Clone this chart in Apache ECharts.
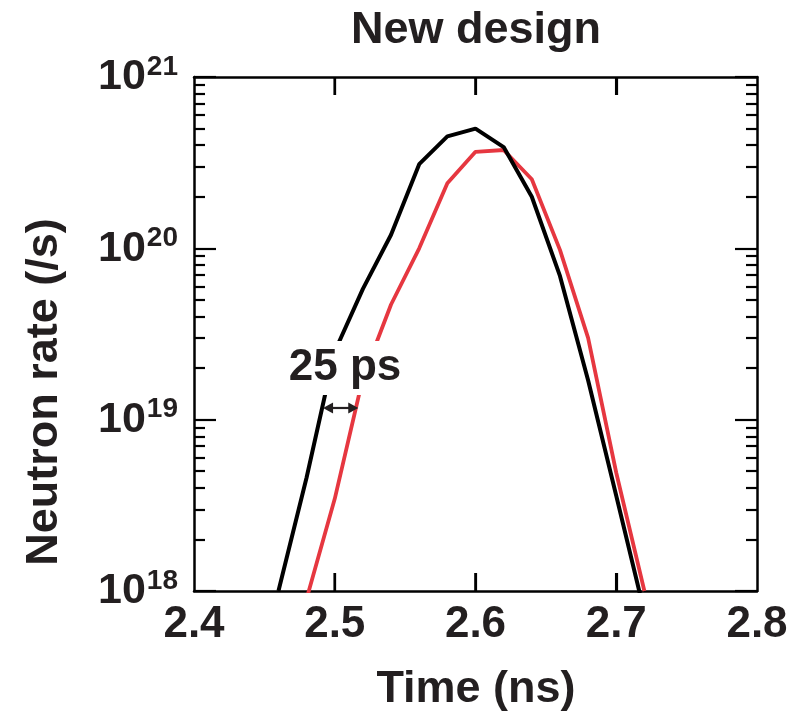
<!DOCTYPE html>
<html><head><meta charset="utf-8">
<script src="https://cdn.jsdelivr.net/npm/echarts@6/dist/echarts.min.js"></script>
<style>html,body{margin:0;padding:0;background:#fff}#c{width:801px;height:716px}</style>
</head><body><div id="c"></div>
<script>
// ---- data ----
const blackTimes = [2.46, 2.48, 2.50, 2.52, 2.54, 2.56, 2.58, 2.60, 2.62, 2.64, 2.66, 2.68, 2.70, 2.72];
const blackRate  = [1.0e18, 4.6e18, 2.5e19, 5.8e19, 1.2e20, 3.1e20, 4.5e20, 5.0e20, 3.9e20, 2.0e20, 6.9e19, 1.7e19, 3.6e18, 7.5e17];
const redTimes   = [2.48, 2.50, 2.52, 2.54, 2.56, 2.58, 2.60, 2.62, 2.64, 2.66, 2.68, 2.70, 2.72];
const redRate    = [9.0e17, 3.45e18, 1.75e19, 4.7e19, 1.0e20, 2.4e20, 3.66e20, 3.75e20, 2.53e20, 9.8e19, 3.0e19, 4.9e18, 1.0e18];
const xTicks = [2.4, 2.5, 2.6, 2.7, 2.8];
const yDecades = [18, 19, 20, 21];
const titleText = 'New design';
const xTitle = 'Time (ns)';
const yTitle = 'Neutron rate (/s)';
const annoText = '25 ps';
const annoStart = 2.4917, annoShift = 0.025, annoRate = 1.17e19;
const annoTextPos = [2.5073, 2.0e19];

const FONT = '"Liberation Sans", Arial, Helvetica, sans-serif';
const minorVals = [];
for (let n = yDecades[0]; n < yDecades[yDecades.length - 1]; n++) {
  for (let k = 2; k <= 9; k++) minorVals.push(n + Math.log10(k));
}
const majorVals = yDecades.slice();
const xInnerTicks = xTicks.slice(1, -1);
const X_TICK_LEN = 18;

const chart = echarts.init(document.getElementById('c'), null, {renderer: 'canvas'});
const frame = () => ({show: true, onZero: false, lineStyle: {color: '#000', width: 2.5}});
const tick = (len, vals) => ({show: true, inside: true, length: len, customValues: vals, lineStyle: {color: '#000', width: 2.2}});
const ymin = Math.pow(10, yDecades[0]), ymax = Math.pow(10, yDecades[yDecades.length - 1]);
const xmin = xTicks[0], xmax = xTicks[xTicks.length - 1];

chart.setOption({
  animation: false,
  backgroundColor: '#fff',
  grid: {left: 194, top: 77, width: 563, height: 514, containLabel: false},
  xAxis: [
    {type: 'value', min: xmin, max: xmax, interval: 0.1, position: 'bottom',
     axisLine: frame(), axisTick: tick(X_TICK_LEN, xInnerTicks), splitLine: {show: false},
     axisLabel: {margin: 12, color: '#231f20', fontFamily: FONT, fontWeight: 'bold', fontSize: 44,
                 formatter: v => v.toFixed(1)}},
    {type: 'value', min: xmin, max: xmax, interval: 0.1, position: 'top',
     axisLine: frame(), axisTick: tick(X_TICK_LEN, xInnerTicks), splitLine: {show: false}, axisLabel: {show: false}}
  ],
  yAxis: [
    {type: 'log', logBase: 10, min: ymin, max: ymax,
     position: 'left', axisLine: frame(), splitLine: {show: false}, axisTick: {show: false},
     axisLabel: {margin: 16, color: '#231f20', fontFamily: FONT, fontWeight: 'bold',
       formatter: v => '{b|10}{s|' + Math.round(Math.log10(v)) + '}',
       rich: {
         b: {fontSize: 43, fontFamily: FONT, fontWeight: 'bold', color: '#231f20', verticalAlign: 'bottom', lineHeight: 44},
         s: {fontSize: 28, fontFamily: FONT, fontWeight: 'bold', color: '#231f20', verticalAlign: 'bottom', lineHeight: 44, padding: [0, 0, 18, 1]}
       }}},
    {type: 'log', logBase: 10, min: ymin, max: ymax,
     position: 'right', axisLine: frame(), splitLine: {show: false}, axisTick: {show: false},
     axisLabel: {show: false}},
    {type: 'value', min: yDecades[0], max: yDecades[yDecades.length - 1], position: 'left',
     axisLine: {show: false}, splitLine: {show: false}, axisLabel: {show: false}, axisTick: tick(11, minorVals)},
    {type: 'value', min: yDecades[0], max: yDecades[yDecades.length - 1], position: 'right',
     axisLine: {show: false}, splitLine: {show: false}, axisLabel: {show: false}, axisTick: tick(11, minorVals)},
    {type: 'value', min: yDecades[0], max: yDecades[yDecades.length - 1], position: 'left',
     axisLine: {show: false}, splitLine: {show: false}, axisLabel: {show: false}, axisTick: tick(22, majorVals)},
    {type: 'value', min: yDecades[0], max: yDecades[yDecades.length - 1], position: 'right',
     axisLine: {show: false}, splitLine: {show: false}, axisLabel: {show: false}, axisTick: tick(22, majorVals)}
  ],
  series: [
    {type: 'line', name: 'red', xAxisIndex: 0, yAxisIndex: 0, data: redTimes.map((t, i) => [t, redRate[i]]),
     showSymbol: false, clip: true, lineStyle: {color: '#e63740', width: 3.8}, z: 2},
    {type: 'line', name: 'black', xAxisIndex: 0, yAxisIndex: 0, data: blackTimes.map((t, i) => [t, blackRate[i]]),
     showSymbol: false, clip: true, lineStyle: {color: '#000', width: 4}, z: 3}
  ]
});

const toPx = v => chart.convertToPixel({xAxisIndex: 0, yAxisIndex: 0}, v);
const p1 = toPx([annoStart, annoRate]);
const p2 = toPx([annoStart + annoShift, annoRate]);
const pt = toPx(annoTextPos);
const yBot = toPx([xmin, ymin])[1], yTop = toPx([xmin, ymax])[1];
const ah = 10, aw = 5.5;
const col = '#231f20';
const xTickGraphics = [];
xInnerTicks.forEach(v => {
  const x = toPx([v, ymin])[0];
  xTickGraphics.push({type: 'rect', z: 50, shape: {x: x - 1.3, y: yBot - X_TICK_LEN, width: 2.6, height: X_TICK_LEN}, style: {fill: '#000'}});
  xTickGraphics.push({type: 'rect', z: 50, shape: {x: x - 1.3, y: yTop, width: 2.6, height: X_TICK_LEN}, style: {fill: '#000'}});
});
chart.setOption({
  graphic: xTickGraphics.concat([
    {type: 'text', x: 476, y: 31, z: 100, style: {text: titleText, font: 'bold 45px ' + FONT, fill: col, align: 'center', verticalAlign: 'middle'}},
    {type: 'text', x: 476, y: 690, z: 100, style: {text: xTitle, font: 'bold 45px ' + FONT, fill: col, align: 'center', verticalAlign: 'middle'}},
    {type: 'text', x: 45, y: 392, rotation: Math.PI / 2, z: 100, style: {text: yTitle, font: 'bold 45px ' + FONT, fill: col, align: 'center', verticalAlign: 'middle'}},
    {type: 'text', x: pt[0], y: pt[1], z: 100, style: {text: annoText, font: 'bold 44px ' + FONT, fill: col, align: 'center', verticalAlign: 'middle', backgroundColor: '#fff', padding: [3, 2, 7, 2]}},
    {type: 'line', z: 101, shape: {x1: p1[0] + ah - 1, y1: p1[1], x2: p2[0] - ah + 1, y2: p2[1]}, style: {stroke: col, lineWidth: 2.2}},
    {type: 'polygon', z: 101, shape: {points: [[p1[0], p1[1]], [p1[0] + ah, p1[1] - aw], [p1[0] + ah, p1[1] + aw]]}, style: {fill: col}},
    {type: 'polygon', z: 101, shape: {points: [[p2[0], p2[1]], [p2[0] - ah, p2[1] - aw], [p2[0] - ah, p2[1] + aw]]}, style: {fill: col}}
  ])
});
</script>
</body></html>
